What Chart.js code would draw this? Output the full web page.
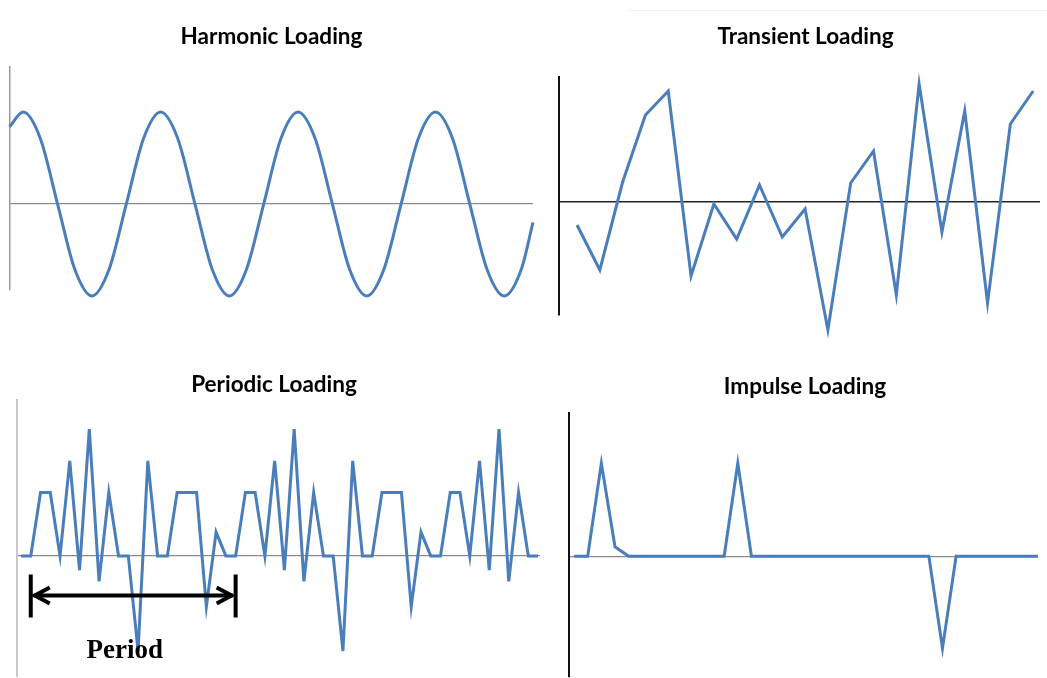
<!DOCTYPE html>
<html>
<head>
<meta charset="utf-8">
<script src="https://cdn.jsdelivr.net/npm/chart.js@4/dist/chart.umd.min.js"></script>
<style>
  body { margin: 0; background: #fff; width: 1047px; height: 678px; overflow: hidden; position: relative; }
  .panel { position: absolute; }
  .smudge { position: absolute; left: 630px; top: 10px; width: 417px; height: 1px; background: #ececec; }
</style>
</head>
<body>
<div class="smudge"></div>
<div class="panel" style="left:0;top:0;width:545px;height:330px"><canvas id="harmonicChart"></canvas></div>
<div class="panel" style="left:545px;top:0;width:510px;height:345px"><canvas id="transientChart"></canvas></div>
<div class="panel" style="left:0;top:350px;width:545px;height:328px"><canvas id="periodicChart"></canvas></div>
<div class="panel" style="left:545px;top:350px;width:502px;height:328px"><canvas id="impulseChart"></canvas></div>
<script>
// harmonic: time (period = 10) and load, read at every eighth of a cycle
const harmonicTime = [0, 1, 2.25, 3.5, 4.75, 6, 7.25, 8.5, 9.75, 11, 12.25, 13.5, 14.75, 16, 17.25, 18.5, 19.75,
                      21, 22.25, 23.5, 24.75, 26, 27.25, 28.5, 29.75, 31, 32.25, 33.5, 34.75, 36, 37.25, 38.1];
const harmonicLoad = [0.84, 1, 0.71, 0, -0.71, -1, -0.71, 0, 0.71, 1, 0.71, 0, -0.71, -1, -0.71, 0, 0.71,
                      1, 0.71, 0, -0.71, -1, -0.71, 0, 0.71, 1, 0.71, 0, -0.71, -1, -0.71, -0.2];

// transient: one value per time step (steps 1..21)
const transientLoad = [-2.3, -6.8, 2.0, 8.7, 11.1, -7.4, -0.2, -3.7, 1.7, -3.5, -0.7,
                       -12.8, 1.9, 5.1, -9.3, 11.8, -3.0, 9.1, -10.1, 7.8, 11.1];

// periodic: steps 0..53, the pattern repeats every 21 steps
const periodicLoad = [0,
  0, 2, 2, 0, 3, -0.45, 4, -0.8, 2, 0, 0, -3, 3, 0, 0, 2, 2, 2, -1.6, 0.75, 0,
  0, 2, 2, 0, 3, -0.45, 4, -0.8, 2, 0, 0, -3, 3, 0, 0, 2, 2, 2, -1.6, 0.75, 0,
  0, 2, 2, 0, 3, -0.45, 4, -0.8, 2, 0, 0];
const periodStart = 1;
const periodEnd = 22;

// impulse: steps 0..34
const impulseLoad = [0, 0, 10, 1, 0, 0, 0, 0, 0, 0, 0, 0, 10, 0, 0, 0, 0, 0,
                     0, 0, 0, 0, 0, 0, 0, 0, 0, -9.9, 0, 0, 0, 0, 0, 0, 0];

const lineBlue = '#4a7ebb';
const titleSize = 22.5;

// pairs of {x, y} for a linear x axis
const toPoints = (xs, ys) => ys.map((y, i) => ({ x: xs[i], y }));
const steps = (ys, first) => ys.map((_, i) => i + first);

// draws the "Period" arrow under the periodic series
const periodArrow = {
  id: 'periodArrow',
  afterDatasetsDraw(chart) {
    const { ctx, scales: { x, y } } = chart;
    const x1 = x.getPixelForValue(periodStart);
    const x2 = x.getPixelForValue(periodEnd);
    const ay = y.getPixelForValue(-1.25);
    ctx.save();
    ctx.strokeStyle = '#000';
    ctx.lineWidth = 4;
    ctx.lineCap = 'butt';
    ctx.beginPath();
    ctx.moveTo(x1 + 3, ay); ctx.lineTo(x2 - 3, ay);
    ctx.moveTo(x1, ay - 21); ctx.lineTo(x1, ay + 22);
    ctx.moveTo(x2, ay - 21); ctx.lineTo(x2, ay + 22);
    ctx.stroke();
    ctx.lineJoin = 'miter';
    ctx.beginPath();
    ctx.moveTo(x1 + 19, ay - 8); ctx.lineTo(x1 + 4, ay); ctx.lineTo(x1 + 19, ay + 8);
    ctx.moveTo(x2 - 19, ay - 8); ctx.lineTo(x2 - 4, ay); ctx.lineTo(x2 - 19, ay + 8);
    ctx.stroke();
    ctx.fillStyle = '#000';
    ctx.font = 'bold 27px "Liberation Serif", "DejaVu Serif", serif';
    ctx.textAlign = 'center';
    ctx.textBaseline = 'alphabetic';
    ctx.fillText('Period', x1 + 94, ay + 62);
    ctx.restore();
  }
};

function makeChart(id, p) {
  // p: container box, wanted chart area, title centre
  const lh = titleSize * 1.2;
  const mid = (p.x1 + p.x2) / 2;
  let padLeft, padRight, wl = 0, wr = 0;
  if (p.tx < mid) {
    padLeft = 2 * p.tx - p.x2; wl = p.x1 - padLeft; padRight = p.x2;
  } else {
    padRight = 2 * p.tx - p.x1; wr = padRight - p.x2; padLeft = p.x1;
  }
  return new Chart(document.getElementById(id), {
    type: 'line',
    data: {
      datasets: [{
        data: p.points,
        borderColor: lineBlue,
        borderWidth: 3,
        pointRadius: 0,
        cubicInterpolationMode: p.smooth ? 'monotone' : 'default',
        tension: 0,
        clip: false
      }]
    },
    options: {
      responsive: true,
      maintainAspectRatio: false,
      animation: false,
      events: [],
      layout: {
        autoPadding: false,
        padding: { left: padLeft - p.L, right: p.L + p.W - padRight, top: 0, bottom: p.T + p.H - p.y2 }
      },
      plugins: {
        legend: { display: false },
        tooltip: { enabled: false },
        title: {
          display: true,
          text: p.title,
          color: '#000',
          font: { family: 'Lato, "Open Sans", sans-serif', size: titleSize, weight: 'bold' },
          padding: { top: p.ty - p.T - lh / 2, bottom: p.y1 - p.ty - lh / 2 }
        }
      },
      scales: {
        x: { type: 'linear', min: p.xMin, max: p.xMax, display: false },
        y: {
          min: p.yMin, max: p.yMax,
          afterFit: s => { s.width = wl; },
          afterBuildTicks: s => { s.ticks = [{ value: 0 }]; },
          ticks: { display: false },
          grid: { drawTicks: false, color: p.zeroColor, lineWidth: p.zeroWidth },
          border: { display: true, color: p.axisColor, width: p.axisWidth }
        },
        y2: {
          position: 'right',
          display: true,
          afterFit: s => { s.width = wr; },
          ticks: { display: false },
          grid: { display: false, drawTicks: false },
          border: { display: false }
        }
      }
    },
    plugins: p.plugins || []
  });
}

makeChart('harmonicChart', {
  title: 'Harmonic Loading', L: 0, T: 0, W: 545, H: 330,
  x1: 9.5, x2: 533, y1: 67, y2: 290, tx: 271.5, ty: 37,
  points: toPoints(harmonicTime, harmonicLoad), smooth: true,
  xMin: 0, xMax: 38.1, yMin: -0.935, yMax: 1.49,
  axisColor: '#9a9a9a', axisWidth: 1.5, zeroColor: '#8c8c8c', zeroWidth: 1.3
});

makeChart('transientChart', {
  title: 'Transient Loading', L: 545, T: 0, W: 510, H: 345,
  x1: 559, x2: 1040, y1: 77, y2: 315, tx: 805.5, ty: 37,
  points: toPoints(steps(transientLoad, 1), transientLoad),
  xMin: 0.21, xMax: 21.3, yMin: -11.3, yMax: 12.5,
  axisColor: '#111', axisWidth: 2, zeroColor: '#222', zeroWidth: 1.5
});

makeChart('periodicChart', {
  title: 'Periodic Loading', L: 0, T: 350, W: 545, H: 328,
  x1: 17, x2: 540, y1: 400, y2: 677, tx: 274, ty: 385,
  points: toPoints(steps(periodicLoad, 0), periodicLoad),
  xMin: -0.41, xMax: 53.2, yMin: -3.82, yMax: 4.92,
  axisColor: '#c8c8c8', axisWidth: 2, zeroColor: '#8a8a8a', zeroWidth: 1.3,
  plugins: [periodArrow]
});

makeChart('impulseChart', {
  title: 'Impulse Loading', L: 545, T: 350, W: 502, H: 328,
  x1: 569, x2: 1038, y1: 413, y2: 677, tx: 805, ty: 387,
  points: toPoints(steps(impulseLoad, 0), impulseLoad),
  xMin: -0.37, xMax: 34.0, yMin: -13.0, yMax: 15.4,
  axisColor: '#111', axisWidth: 2, zeroColor: '#8a8a8a', zeroWidth: 1.3
});
</script>
</body>
</html>
